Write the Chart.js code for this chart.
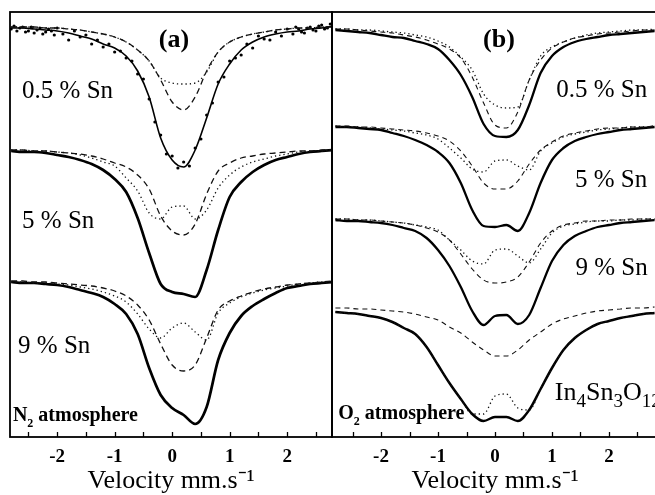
<!DOCTYPE html>
<html><head><meta charset="utf-8">
<script src="https://cdn.jsdelivr.net/npm/chart.js@4/dist/chart.umd.min.js"></script>
<style>
html,body{margin:0;padding:0;background:#fff;overflow:hidden;width:655px;height:495px;position:relative}
canvas{position:absolute;left:0;top:0}
</style></head><body>
<canvas id="ca" width="655" height="495"></canvas>
<canvas id="cb" width="670" height="495"></canvas>
<script>
// Velocity grid (mm/s) shared by all fitted curves
const velocity = [-2.8,-2.6,-2.4,-2.2,-2.0,-1.8,-1.6,-1.4,-1.2,-1.0,-0.8,-0.6,-0.4,-0.2,0.0,0.2,0.4,0.6,0.8,1.0,1.2,1.4,1.6,1.8,2.0,2.2,2.4,2.6,2.8];

// Offset relative transmission (arbitrary units), panel (a): N2 atmosphere
const a05Fit  = [409,409,408,407,406,404,401,398,393,389,381,366,340,299,277,270,287,319,353,373,387,395,400,403,405,406,408,409,411];
const a05Dash = [410,410,410,409,409,408,407,405,403,400,395,387,376,357,335,327,340,366,385,395,400,403,405,407,408,409,409,410,410];
const a05Dot  = [410,410,410,409,409,408,407,405,403,400,395,387,376,359,354,353,354,365,385,395,400,403,405,407,408,409,409,410,410];
const a05DataVel = [-2.8,-2.75,-2.7,-2.65,-2.6,-2.55,-2.5,-2.45,-2.4,-2.35,-2.3,-2.25,-2.2,-2.15,-2.1,-2.05,-2.0,-1.9,-1.8,-1.7,-1.6,-1.5,-1.4,-1.3,-1.2,-1.1,-1.0,-0.9,-0.8,-0.7,-0.6,-0.5,-0.4,-0.3,-0.2,-0.1,0.0,0.1,0.2,0.3,0.4,0.5,0.6,0.7,0.8,0.9,1.0,1.1,1.2,1.3,1.4,1.5,1.6,1.7,1.8,1.9,2.0,2.1,2.15,2.2,2.25,2.3,2.35,2.4,2.45,2.5,2.55,2.6,2.65,2.7,2.75,2.8];
const a05Data = [408,411,406,409,410,405,406,410,404,407,409,403,405,408,406,402,409,403,397,406,400,402,393,397,390,393,385,386,379,376,363,358,338,315,302,283,281,269,275,271,289,298,322,334,355,360,376,379,382,393,389,401,398,397,405,401,408,403,410,408,405,404,409,410,407,406,411,412,408,409,413,413];

const a5Fit  = [286,285,285,284,282,280,277,273,267,258,245,219,184,153,145,143,140,167,207,240,255,265,272,277,280,283,285,286,287];
const a5Dash = [287,287,286,286,285,284,283,281,278,274,270,262,248,221,206,202,213,243,266,274,279,281,283,284,285,286,286,287,287];
const a5Dot  = [287,287,286,286,285,284,282,279,275,271,259,246,224,218,230,231,218,227,249,262,270,275,278,281,283,285,286,286,287];

const a9Fit  = [155,154,154,153,152,150,147,144,140,133,123,103,69,42,29,22,13,30,77,104,121,131,138,144,149,151,153,154,155];
const a9Dash = [156,156,155,155,154,153,152,151,149,146,141,132,117,93,72,66,72,99,127,136,141,145,148,150,152,153,154,155,156];
const a9Dot  = [155,155,154,154,153,152,150,148,145,141,135,123,108,99,109,114,105,97,124,134,140,144,147,149,151,153,154,155,155];

// Panel (b): O2 atmosphere
const b05Fit  = [407,406,405,404,402,400,399,396,393,388,377,362,340,313,301,300,307,332,364,381,390,395,398,400,402,403,404,405,406];
const b05Dash = [408,408,407,406,405,404,402,400,397,393,388,379,360,334,312,309,325,357,377,389,395,399,401,403,404,405,406,407,407];
const b05Dot  = [408,408,407,407,406,405,404,402,400,396,390,380,367,343,332,329,330,357,381,390,395,399,402,404,405,406,407,407,408];

const b5Fit  = [310,310,309,308,307,304,301,297,292,285,274,254,227,211,210,212,206,224,254,277,289,296,300,303,305,307,308,309,310];
const b5Dash = [311,311,310,310,309,308,307,306,304,301,296,286,271,254,248,248,256,273,287,295,301,304,306,308,309,309,310,310,311];
const b5Dot  = [311,310,310,309,308,307,306,304,302,298,289,279,268,265,276,277,271,267,286,294,300,303,305,307,308,309,310,310,311];

const b9Fit  = [217,216,216,215,214,212,209,206,199,187,171,150,126,112,121,122,113,122,149,176,192,201,206,210,212,214,215,216,217];
const b9Dash = [218,218,217,217,216,215,214,212,209,205,197,183,168,157,154,155,160,175,194,206,212,214,216,216,217,217,218,218,218];
const b9Dot  = [218,218,217,217,216,215,214,212,210,207,197,187,176,173,187,188,181,174,188,204,211,213,215,216,216,217,217,218,218];

const bInFit  = [125,124,123,121,119,115,109,103,90,72,54,38,23,16,20,20,16,27,48,69,87,99,107,113,116,119,121,123,124];
const bInDash = [129,129,128,128,127,126,125,123,120,117,110,104,95,87,81,81,87,97,105,113,118,121,124,126,127,128,129,129,130];
const bInDot  = [125,124,123,121,119,115,109,103,90,72,54,38,23,23,41,43,29,27,48,69,87,99,107,113,116,119,121,123,124];

const xTickStep = 0.5;
const axisTitle = 'Velocity mm.s\u207B\u00B9';
const SERIF = '"Liberation Serif","Times New Roman",serif';

function pts(xs, arr){ return xs.map((x,i)=>({x:x, y:arr[i]})); }
function fitDs(arr, w){ return {data:pts(velocity,arr), borderColor:'#000', borderWidth:w, pointRadius:0, cubicInterpolationMode:'monotone', fill:false}; }
function dashDs(arr, d, w){ return {data:pts(velocity,arr), borderColor:'#111', borderWidth:w||1.3, borderDash:d||[6,4], pointRadius:0, cubicInterpolationMode:'monotone', fill:false}; }
function dotDs(arr){ return {data:pts(velocity,arr), borderColor:'#111', borderWidth:1.3, borderDash:[1.3,3], pointRadius:0, cubicInterpolationMode:'monotone', fill:false}; }
function dataDs(xs, arr){ return {data:pts(xs,arr), showLine:false, pointRadius:1.6, pointBackgroundColor:'#000', pointBorderWidth:0, borderColor:'#000'}; }

function drawRich(ctx, l, px, py){
  const size = l.size, weight = l.weight || 'normal';
  const subSize = Math.round(size*(l.subScale||0.62));
  let total = 0;
  const segs = l.segs.map(s=>{
    ctx.font = weight+' '+(s[1]?subSize:size)+'px '+SERIF;
    const w = ctx.measureText(s[0]).width; total += w; return {t:s[0], sub:s[1], w:w};
  });
  let x = l.align==='center' ? px - total/2 : (l.align==='right' ? px - total : px);
  ctx.fillStyle = '#000';
  ctx.textBaseline = l.base || 'middle';
  ctx.textAlign = 'left';
  segs.forEach(s=>{
    ctx.font = weight+' '+(s.sub?subSize:size)+'px '+SERIF;
    ctx.fillText(s.t, x, py + (s.sub ? size*0.28 : 0));
    x += s.w;
  });
}

function panelPlugin(labels){
  return {
    id:'panel',
    afterDatasetsDraw(chart){
      const ctx = chart.ctx, a = chart.chartArea, xs = chart.scales.x, ys = chart.scales.y;
      ctx.save();
      ctx.strokeStyle = '#000'; ctx.lineWidth = 1.3;
      xs.ticks.forEach(t=>{
        const px = Math.round(xs.getPixelForValue(t.value))+0.5;
        ctx.beginPath(); ctx.moveTo(px, a.bottom); ctx.lineTo(px, a.bottom-5); ctx.stroke();
      });
      ctx.lineWidth = 1.8;
      ctx.strokeRect(a.left, a.top, a.right-a.left, a.bottom-a.top);
      labels.forEach(l=>drawRich(ctx, l, xs.getPixelForValue(l.v), ys.getPixelForValue(l.y)));
      ctx.restore();
    }
  };
}

function makeChart(id, padL, padR, xmin, xmax, datasets, labels){
  return new Chart(document.getElementById(id), {
    type:'line',
    data:{datasets:datasets},
    options:{
      responsive:false, animation:false, devicePixelRatio:1,
      layout:{padding:{left:padL, right:padR, top:12, bottom:0}},
      plugins:{legend:{display:false}, tooltip:{enabled:false}},
      scales:{
        x:{type:'linear', min:xmin, max:xmax, position:'bottom',
           grid:{display:false, drawTicks:false}, border:{display:false},
           ticks:{stepSize:xTickStep, autoSkip:false, maxRotation:0, minRotation:0, includeBounds:false, padding:9,
                  color:'#000', font:{family:SERIF, size:19, weight:'bold'},
                  callback:v=>Number.isInteger(v) ? String(v) : ''},
           title:{display:true, text:axisTitle, color:'#000', font:{family:SERIF, size:26, lineHeight:1.0}, padding:{top:0,bottom:1}},
           afterFit:s=>{ s.height = 58; }},
        y:{display:false, min:0, max:425}
      }
    },
    plugins:[panelPlugin(labels)]
  });
}

const aSets = [
  dotDs(a05Dot), dashDs(a05Dash), fitDs(a05Fit,1.6), dataDs(a05DataVel,a05Data),
  dotDs(a5Dot), dashDs(a5Dash), fitDs(a5Fit,2.7),
  dotDs(a9Dot), dashDs(a9Dash), fitDs(a9Fit,2.7)
];
const aLabels = [
  {segs:[['(a)',0]], v:0.03, y:397, size:26, weight:'bold', align:'center'},
  {segs:[['0.5 % Sn',0]], v:-2.61, y:346, size:25, align:'left'},
  {segs:[['5 % Sn',0]], v:-2.61, y:216, size:25, align:'left'},
  {segs:[['9 % Sn',0]], v:-2.68, y:91, size:25, align:'left'},
  {segs:[['N',0],['2',1],[' atmosphere',0]], v:-2.77, y:16, size:20, weight:'bold', align:'left', base:'alphabetic', subScale:0.6}
];
makeChart('ca', 10, 323, -2.82, 2.78, aSets, aLabels);

const bSets = [
  dotDs(b05Dot), dashDs(b05Dash,[5,4],1.1), fitDs(b05Fit,2.3),
  dotDs(b5Dot), dashDs(b5Dash,[5,4],1.1), fitDs(b5Fit,2.3),
  dotDs(b9Dot), dashDs(b9Dash,[5,4],1.1), fitDs(b9Fit,2.3),
  dotDs(bInDot), dashDs(bInDash,[5,4],1.1), fitDs(bInFit,2.5)
];
const bLabels = [
  {segs:[['(b)',0]], v:0.07, y:397, size:26, weight:'bold', align:'center'},
  {segs:[['0.5 % Sn',0]], v:2.67, y:347, size:25, align:'right'},
  {segs:[['5 % Sn',0]], v:2.67, y:257, size:25, align:'right'},
  {segs:[['9 % Sn',0]], v:2.68, y:169, size:25, align:'right'},
  {segs:[['In',0],['4',1],['Sn',0],['3',1],['O',0],['12',1]], v:1.05, y:37, size:26, align:'left', base:'alphabetic', subScale:0.72},
  {segs:[['O',0],['2',1],[' atmosphere',0]], v:-2.75, y:18, size:20, weight:'bold', align:'left', base:'alphabetic', subScale:0.6}
];
makeChart('cb', 332, 12, -2.86, 2.86, bSets, bLabels);
</script>
</body></html>
